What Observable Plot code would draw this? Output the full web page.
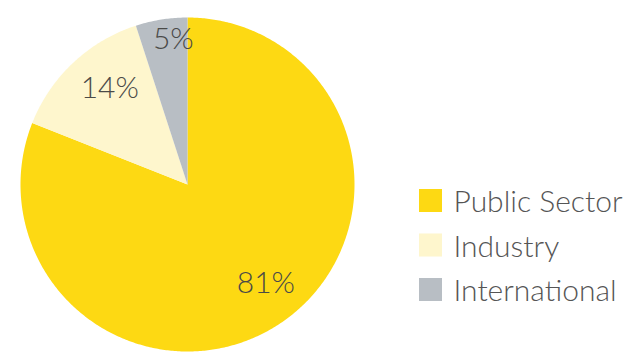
<!DOCTYPE html>
<html><head><meta charset="utf-8">
<script src="https://cdn.jsdelivr.net/npm/d3@7"></script>
<script src="https://cdn.jsdelivr.net/npm/@observablehq/plot@0.6"></script>
<style>html,body{margin:0;padding:0;background:#fff;}</style>
</head><body><div id="chart"></div>
<script>
const categories = ["Public Sector", "Industry", "International"];
const shares = [81, 14, 5];
const labels = ["81%", "14%", "5%"];
const colors = ["#fdd913", "#fef6cd", "#b8bec4"];

const W = 635, H = 361;
const cx = 187, cy = 184, R = 167;

const total = d3.sum(shares);
let acc = 0;
const arcs = shares.map((v, i) => {
  const a0 = acc / total * 2 * Math.PI; acc += v;
  const a1 = acc / total * 2 * Math.PI;
  const mid = (a0 + a1) / 2;
  const rf = v / total < 0.1 ? 0.85 : 0.75;
  return {cat: categories[i], a0, a1, label: labels[i], lx: rf * Math.sin(mid), ly: rf * Math.cos(mid)};
});
const pts = [];
arcs.forEach(a => {
  pts.push({cat: a.cat, x: 0, y: 0});
  const n = Math.max(2, Math.ceil((a.a1 - a.a0) / 0.01));
  for (let k = 0; k <= n; k++) {
    const t = a.a0 + (a.a1 - a.a0) * k / n;
    pts.push({cat: a.cat, x: Math.sin(t), y: Math.cos(t)});
  }
  pts.push({cat: a.cat, x: 0, y: 0});
});
const legend = categories.map((c, i) => ({
  cat: c,
  sx: (430 - cx) / R,
  tx: (453 - cx) / R,
  y: (cy - (200 + i * 44.5)) / R
}));

const chart = Plot.plot({
  width: W, height: H, margin: 0,
  x: {domain: [-cx / R, (W - cx) / R], axis: null},
  y: {domain: [-(H - cy) / R, cy / R], axis: null},
  color: {domain: categories, range: colors},
  style: {fontFamily: "Lato, sans-serif", background: "#fff"},
  marks: [
    Plot.line(pts, {x: "x", y: "y", z: "cat", fill: "cat", stroke: "none"}),
    Plot.text(arcs, {x: "lx", y: "ly", text: "label", fontSize: 30, fontWeight: 300, fill: "#4a4a48", dx: 8, dy: -5}),
    Plot.dot(legend, {x: "sx", y: "y", symbol: "square", r: 13, fill: "cat"}),
    Plot.text(legend, {x: "tx", y: "y", text: "cat", textAnchor: "start", fontSize: 30, fontWeight: 300, fill: "#555", dy: 2})
  ]
});
document.getElementById("chart").appendChild(chart);
</script>
</body></html>
